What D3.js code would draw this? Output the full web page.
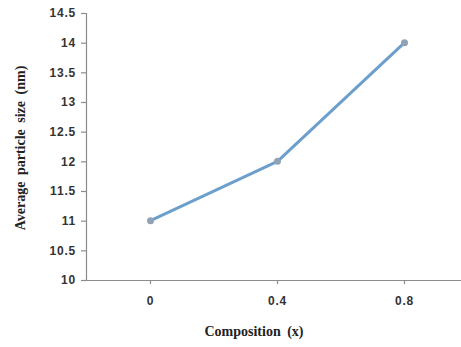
<!DOCTYPE html>
<html><head><meta charset="utf-8">
<script src="https://cdn.jsdelivr.net/npm/d3@7"></script>
<style>body{margin:0;background:#fff}</style>
</head><body>
<svg id="c" width="461" height="347"></svg>
<script>
const categories = ["0", "0.4", "0.8"];
const values = [11, 12, 14];
const yTicks = [10, 10.5, 11, 11.5, 12, 12.5, 13, 13.5, 14, 14.5];

const svg = d3.select("#c");
const x = d3.scaleBand().domain(categories).range([87, 468]).paddingInner(0).paddingOuter(0);
const y = d3.scaleLinear().domain([10, 14.5]).range([280, 13]);

const axisColor = "#8c8c8c";
const tickFont = "'Liberation Sans', Arial, sans-serif";
const titleFont = "'Liberation Serif', 'Times New Roman', serif";

// Y axis
const ya = svg.append("g").attr("transform", "translate(86,0)")
  .call(d3.axisLeft(y).tickValues(yTicks).tickSize(5).tickPadding(5).tickFormat(d => String(d)));
ya.select(".domain").attr("stroke", axisColor).attr("stroke-width", 1.2);
ya.selectAll(".tick line").attr("stroke", axisColor).attr("stroke-width", 1.2);
ya.selectAll(".tick text").attr("fill", "#333").attr("font-family", tickFont)
  .attr("font-weight", "bold").attr("font-size", 12).style("letter-spacing", "0.8px");

// X axis
const xa = svg.append("g").attr("transform", "translate(0,280)")
  .call(d3.axisBottom(x).tickSize(4).tickSizeOuter(0).tickPadding(12));
xa.select(".domain").attr("stroke", axisColor).attr("stroke-width", 1.2).attr("d", "M86.5,0.5H461");
xa.selectAll(".tick line").attr("stroke", axisColor).attr("stroke-width", 1.2);
xa.selectAll(".tick text").attr("fill", "#333").attr("font-family", tickFont)
  .attr("font-weight", "bold").attr("font-size", 12).style("letter-spacing", "0.8px");

// Line
const pts = categories.map((c, i) => [x(c) + x.bandwidth() / 2, y(values[i])]);
svg.append("path").datum(pts)
  .attr("fill", "none").attr("stroke", "#6c9fcc").attr("stroke-width", 3)
  .attr("stroke-linejoin", "round")
  .attr("d", d3.line());
svg.selectAll("circle.pt").data(pts).enter().append("circle")
  .attr("class", "pt").attr("cx", d => d[0]).attr("cy", d => d[1]).attr("r", 3.5)
  .attr("fill", "#8fa2b6");

// Titles
svg.append("text").attr("x", 254).attr("y", 336).attr("text-anchor", "middle")
  .attr("font-family", titleFont).attr("font-weight", "bold").attr("font-size", 14)
  .attr("fill", "#222").style("word-spacing", "3px").text("Composition (x)");
svg.append("text").attr("transform", "translate(25,148) rotate(-90)").attr("text-anchor", "middle")
  .attr("font-family", titleFont).attr("font-weight", "bold").attr("font-size", 14)
  .attr("fill", "#222").style("word-spacing", "3px").text("Average particle size (nm)");
</script>
</body></html>
